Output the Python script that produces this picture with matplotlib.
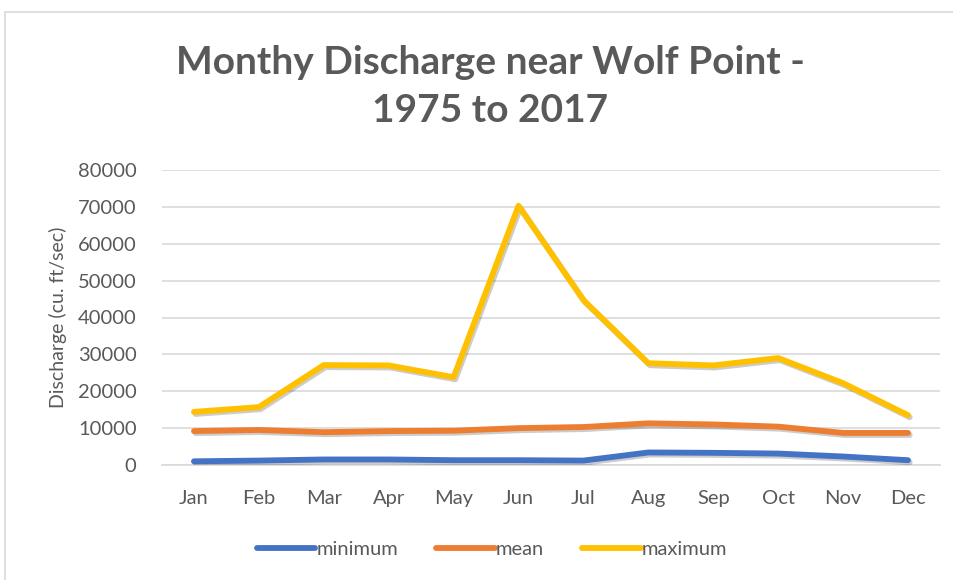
import matplotlib
matplotlib.use("Agg")
import matplotlib.pyplot as plt
import matplotlib.patheffects as pe
from matplotlib.patches import Rectangle

months = ["Jan", "Feb", "Mar", "Apr", "May", "Jun", "Jul", "Aug", "Sep", "Oct", "Nov", "Dec"]
minimum = [1000, 1200, 1500, 1500, 1300, 1300, 1200, 3400, 3300, 3100, 2300, 1300]
mean = [9200, 9500, 8900, 9200, 9300, 10000, 10300, 11300, 11000, 10400, 8700, 8700]
maximum = [14400, 15700, 27100, 27000, 23800, 70300, 44700, 27600, 27000, 29000, 22200, 13500]
yticks = [0, 10000, 20000, 30000, 40000, 50000, 60000, 70000, 80000]

W, H = 954, 580
fig = plt.figure(figsize=(W / 100, H / 100), dpi=100)
grey = "#595959"
plt.rcParams["font.family"] = ["Lato", "DejaVu Sans"]

# chart border
fig.add_artist(Rectangle((5 / W, -0.01), 1.0, 1 - 12 / H + 0.01, transform=fig.transFigure,
                         fill=False, edgecolor="#d9d9d9", linewidth=1.2))

ax = fig.add_axes([161.5 / W, 1 - 465 / H, (940.5 - 161.5) / W, (465 - 170) / H])
x = list(range(len(months)))
shadow = [pe.SimpleLineShadow(offset=(1.2, -1.5), alpha=0.2, shadow_color="black"), pe.Normal()]
for vals, col, lab in [(minimum, "#4472c4", "minimum"), (mean, "#ed7d31", "mean"), (maximum, "#ffc000", "maximum")]:
    ax.plot(x, vals, color=col, linewidth=4.2, solid_capstyle="round", solid_joinstyle="round",
            label=lab, path_effects=shadow, zorder=3)

ax.set_xlim(-0.5, 11.5)
ax.set_ylim(0, 80000)
ax.set_yticks(yticks)
ax.set_yticklabels([str(v) for v in yticks])
ax.set_xticks(x)
ax.set_xticklabels(months)
ax.grid(axis="y", color="#d9d9d9", linewidth=1.2)
ax.set_axisbelow(True)
for s in ["top", "right", "left"]:
    ax.spines[s].set_visible(False)
ax.spines["bottom"].set_color("#d9d9d9")
ax.spines["bottom"].set_linewidth(1.2)
ax.tick_params(axis="x", length=0, labelsize=14.5, labelcolor=grey, pad=18)
ax.tick_params(axis="y", length=0, labelsize=14.5, labelcolor=grey, pad=18)
ax.set_ylabel("Discharge (cu. ft/sec)", fontsize=14, color=grey, labelpad=8)

fig.text(490 / W, 1 - 62 / H, "Monthy Discharge near Wolf Point -", ha="center", va="center",
         fontsize=28, fontweight="bold", color=grey)
fig.text(490 / W, 1 - 110 / H, "1975 to 2017", ha="center", va="center",
         fontsize=28, fontweight="bold", color=grey)

leg = fig.legend(loc="center", bbox_to_anchor=(492 / W, 1 - 549 / H), ncol=3, frameon=False,
                 fontsize=14.5, handlelength=2.9, handletextpad=0.05, columnspacing=1.9)
for t in leg.get_texts():
    t.set_color(grey)
for h in leg.get_lines():
    h.set_path_effects([])
    h.set_linewidth(4.2)

fig.savefig("out.png", dpi=100)
